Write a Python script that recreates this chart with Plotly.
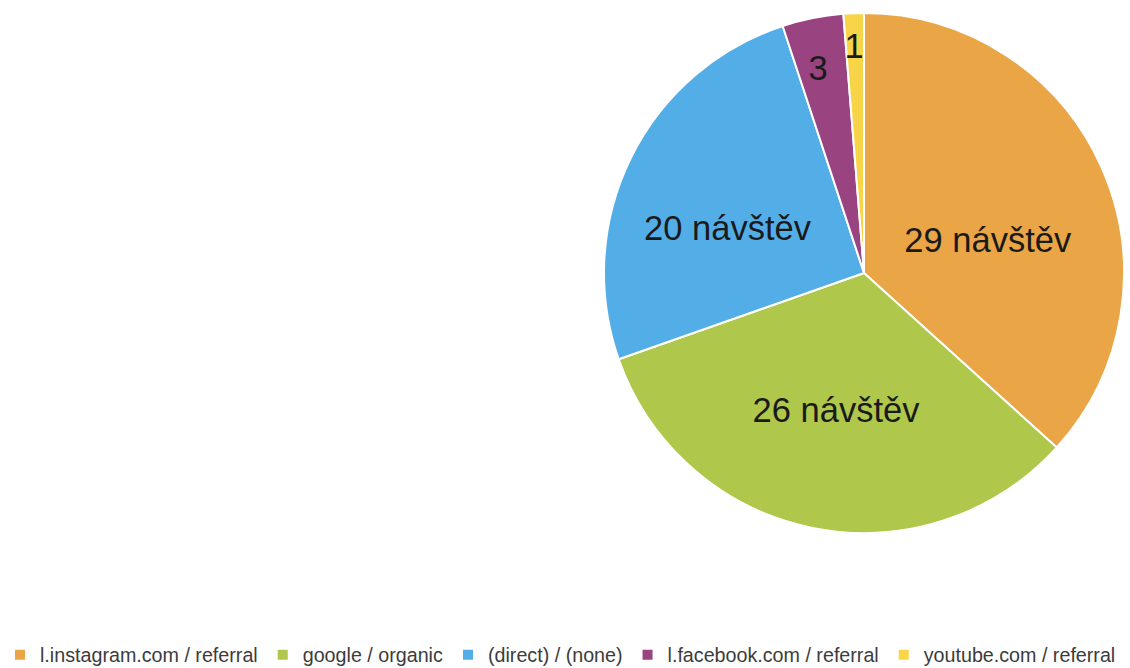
import plotly.graph_objects as go

labels = ["l.instagram.com / referral", "google / organic", "(direct) / (none)",
          "l.facebook.com / referral", "youtube.com / referral"]
values = [29, 26, 20, 3, 1]
texts = ["&nbsp;<br>29 návštěv", "26 návštěv", "&nbsp;<br>20 návštěv", "&nbsp;<br>3", "&nbsp;<br>1"]
colors = ["#E9A546", "#AFC74A", "#53AEE8", "#9A4381", "#F8D548"]

FONT = "Liberation Sans, Arial, Helvetica, sans-serif"

fig = go.Figure(go.Pie(
    labels=labels, values=values, text=texts,
    textinfo="text", textposition="inside", insidetextorientation="horizontal",
    sort=False, direction="clockwise", rotation=0,
    marker=dict(colors=colors, line=dict(color="white", width=2)),
    insidetextfont=dict(size=34.5, color="#1a1a1a", family=FONT),
    domain=dict(x=[604/1130, 1124/1130], y=[1-533/668, 1-13/668]),
    hoverinfo="label+value",
))
fig.update_layout(
    width=1130, height=668,
    margin=dict(l=0, r=0, t=0, b=0, autoexpand=False),
    paper_bgcolor="white",
    showlegend=True,
    legend=dict(orientation="h", x=0, xanchor="left", y=13/668, yanchor="middle",
                font=dict(size=19.7, color="#3c3c3c", family=FONT),
                itemwidth=30, tracegroupgap=0),
    uniformtext=dict(minsize=34.5, mode="show"),
)
fig.write_html("out.html", config={"displayModeBar": False},
               post_script="document.body.style.margin='0';")
